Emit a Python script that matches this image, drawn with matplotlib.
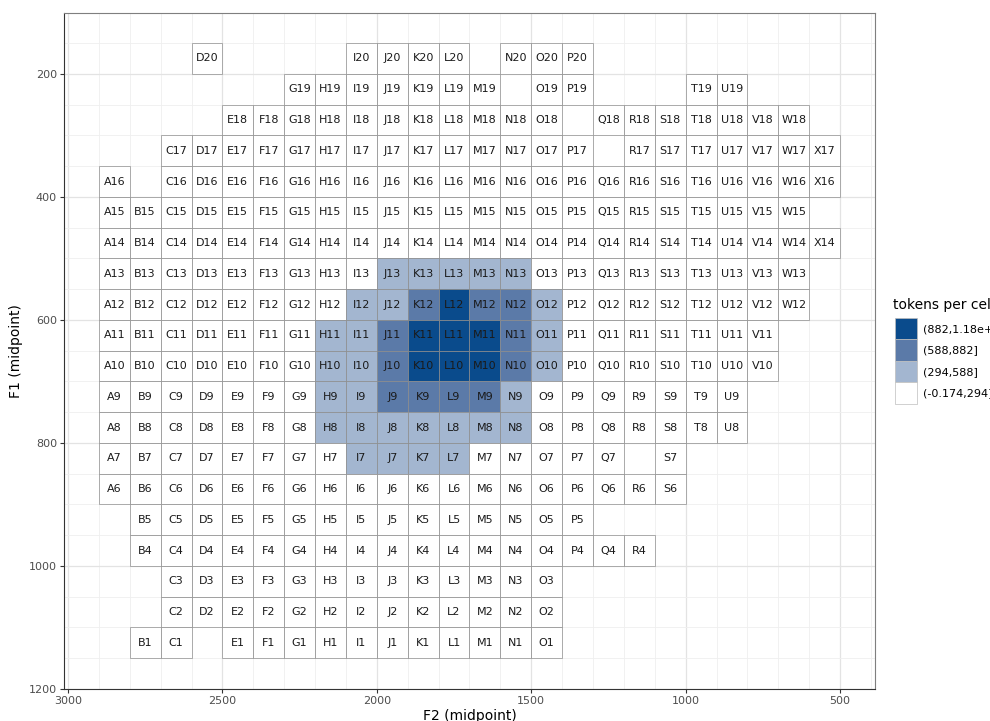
import matplotlib
matplotlib.use("Agg")
import matplotlib.pyplot as plt
from matplotlib.patches import Rectangle, Patch

# column letters and their F2 midpoints (Hz)
letters = list("ABCDEFGHIJKLMNOPQRSTUVWX")
f2_mid = [2850, 2750, 2650, 2550, 2450, 2350, 2250, 2150, 2050, 1950, 1850, 1750,
          1650, 1550, 1450, 1350, 1250, 1150, 1050, 950, 850, 750, 650, 550]

# row numbers and their F1 midpoints (Hz)
row_nums = list(range(20, 0, -1))
f1_mid = [175, 225, 275, 325, 375, 425, 475, 525, 575, 625,
          675, 725, 775, 825, 875, 925, 975, 1025, 1075, 1125]

# occupied columns in each row
row_cols = {
    20: "DIJKLNOP",
    19: "GHIJKLMOPTU",
    18: "EFGHIJKLMNOQRSTUVW",
    17: "CDEFGHIJKLMNOPRSTUVWX",
    16: "ACDEFGHIJKLMNOPQRSTUVWX",
    15: "ABCDEFGHIJKLMNOPQRSTUVW",
    14: "ABCDEFGHIJKLMNOPQRSTUVWX",
    13: "ABCDEFGHIJKLMNOPQRSTUVW",
    12: "ABCDEFGHIJKLMNOPQRSTUVW",
    11: "ABCDEFGHIJKLMNOPQRSTUV",
    10: "ABCDEFGHIJKLMNOPQRSTUV",
    9: "ABCDEFGHIJKLMNOPQRSTU",
    8: "ABCDEFGHIJKLMNOPQRSTU",
    7: "ABCDEFGHIJKLMNOPQS",
    6: "ABCDEFGHIJKLMNOPQRS",
    5: "BCDEFGHIJKLMNOP",
    4: "BCDEFGHIJKLMNOPQR",
    3: "CDEFGHIJKLMNO",
    2: "CDEFGHIJKLMNO",
    1: "BCEFGHIJKLMNO",
}

# cells by token-count bin (all other cells fall in the lowest bin)
bin_high = ["L12", "K11", "L11", "M11", "K10", "L10", "M10"]
bin_mid = ["K12", "M12", "N12", "J11", "N11", "J10", "N10", "J9", "K9", "L9", "M9"]
bin_low = ["J13", "K13", "L13", "M13", "N13", "I12", "J12", "O12",
           "H11", "I11", "O11", "H10", "I10", "O10", "H9", "I9", "N9",
           "H8", "I8", "J8", "K8", "L8", "M8", "N8", "I7", "J7", "K7", "L7"]

bin_labels = ["(882,1.18e+03]", "(588,882]", "(294,588]", "(-0.174,294]"]
bin_colors = ["#0a4b8c", "#5b7aa8", "#a3b6d0", "#ffffff"]

fig = plt.figure(figsize=(9.9, 7.21), dpi=100)
ax = fig.add_axes([0.0646, 0.0444, 0.8192, 0.9376])

for r in row_nums:
    y = f1_mid[row_nums.index(r)]
    for c in row_cols[r]:
        x = f2_mid[letters.index(c)]
        name = f"{c}{r}"
        if name in bin_high:
            fc = bin_colors[0]
        elif name in bin_mid:
            fc = bin_colors[1]
        elif name in bin_low:
            fc = bin_colors[2]
        else:
            fc = bin_colors[3]
        ax.add_patch(Rectangle((x - 50, y - 25), 100, 50, facecolor=fc,
                               edgecolor="#8c8c8c", linewidth=0.5, zorder=2))
        ax.text(x, y, name, ha="center", va="center", fontsize=8,
                color="#1a1a1a", zorder=3)

ax.set_xlim(3013, 387)
ax.set_ylim(1200, 101)
ax.set_xticks([3000, 2500, 2000, 1500, 1000, 500])
ax.set_yticks([200, 400, 600, 800, 1000, 1200])
ax.set_xticks(range(400, 3001, 100), minor=True)
ax.set_yticks(range(150, 1201, 50), minor=True)
ax.grid(which="major", color="#e3e3e3", linewidth=0.9, zorder=0)
ax.grid(which="minor", color="#efefef", linewidth=0.6, zorder=0)
ax.set_axisbelow(True)
ax.tick_params(which="minor", length=0)
ax.tick_params(which="major", length=3, width=0.8, color="#333333",
               labelsize=8, labelcolor="#4d4d4d", pad=2)
for s in ax.spines.values():
    s.set_color("#333333")
    s.set_linewidth(0.8)
ax.spines["top"].set_color("#7f7f7f")
ax.spines["right"].set_color("#7f7f7f")

ax.set_xlabel("F2 (midpoint)", fontsize=10, labelpad=2)
ax.set_ylabel("F1 (midpoint)", fontsize=10, labelpad=4)

# legend runs past the right edge of the figure, so the text gets clipped there
fig.text(0.902, 0.577, "tokens per cell", fontsize=10, ha="left", va="center")
handles = [Patch(facecolor=c, edgecolor="#bdbdbd", linewidth=0.5) for c in bin_colors]
fig.legend(handles, bin_labels, loc="upper left",
           bbox_to_anchor=(0.904, 0.559), frameon=False, fontsize=8,
           handlelength=2.0, handleheight=2.6,
           labelspacing=0.0, handletextpad=0.5, borderaxespad=0.0,
           borderpad=0.0)

fig.savefig("out.png", dpi=100)
